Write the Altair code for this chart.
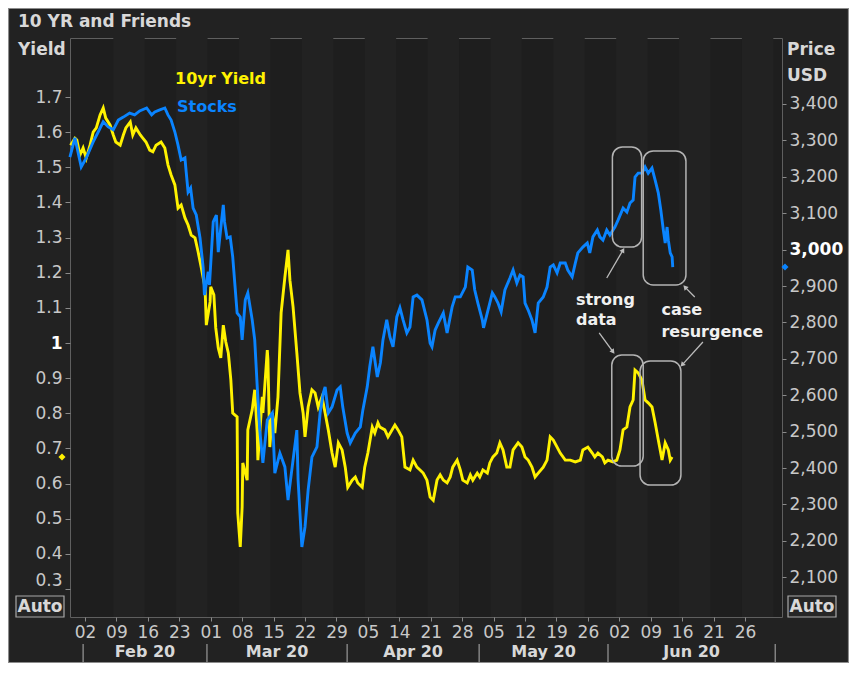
import altair as alt
import pandas as pd

# ---------------- data (x = trading-day index, 5 units per week, 0 = week of Feb 02 2020)
stock_t = [-2.4, -1.6, -0.6, 0.2, 1.3, 2.1, 2.9, 3.7, 4.5, 5.3, 6.1, 7.1, 7.9, 8.7, 9.8, 10.6, 11.1, 11.9,
           12.7, 13.2, 13.7, 14.3, 14.8, 15.3, 15.9, 16.1, 16.4, 16.8, 17.2, 17.7, 18.3, 18.8, 19.0, 19.6,
           19.8, 20.4, 20.9, 21.2, 21.6, 22.0, 22.2, 22.6, 23.1, 23.5, 24.2, 24.7, 25.0, 25.5, 25.9, 26.6,
           27.0, 27.4, 27.8, 28.3, 29.0, 29.8, 30.2, 31.0, 31.8, 32.3, 32.9, 33.7, 33.9, 34.5, 35.0, 35.5,
           36.1, 36.9, 37.4, 37.9, 38.2, 38.7, 39.3, 40.1, 40.6, 41.0, 41.7, 42.2, 43.0, 43.8, 44.2, 44.9,
           45.3, 45.8, 46.5, 47.0, 47.4, 48.0, 48.5, 49.0, 49.6, 50.1, 50.6, 51.2, 51.7, 52.2, 52.8, 53.6,
           54.4, 54.9, 55.2, 55.7, 56.2, 57.0, 57.6, 58.4, 58.9, 59.7, 60.5, 60.9, 61.6, 62.0, 62.5, 63.2,
           63.4, 64.0, 64.8, 65.2, 65.7, 66.2, 66.8, 67.6, 68.1, 68.7, 69.2, 69.7, 70.0, 70.5, 71.1, 71.6,
           72.1, 72.9, 73.5, 74.0, 74.5, 75.1, 75.6, 76.4, 76.8, 77.5, 78.0, 78.4, 79.2, 79.9, 80.3, 80.8,
           81.5, 81.9, 82.4, 83.0, 83.5, 84.3, 84.8, 85.6, 86.2, 86.7, 87.2, 87.5, 88.0, 88.6, 89.1, 89.6,
           90.2, 90.7, 91.2, 91.6, 92.0, 92.3, 92.6, 92.8, 93.1, 93.4, 93.5]
stock_px = [3254, 3307, 3227, 3252, 3296, 3323, 3351, 3337, 3329, 3356, 3364, 3375, 3370, 3381, 3389, 3370,
            3378, 3384, 3389, 3370, 3356, 3323, 3287, 3246, 3252, 3213, 3158, 3169, 3114, 3095, 3032, 2950,
            2875, 2939, 2903, 3076, 3095, 2993, 3059, 3123, 3076, 3032, 3035, 2980, 2826, 2815, 2752, 2862,
            2881, 2807, 2752, 2623, 2504, 2414, 2532, 2551, 2386, 2441, 2403, 2312, 2395, 2504, 2367, 2183,
            2238, 2340, 2430, 2458, 2551, 2606, 2623, 2551, 2568, 2614, 2623, 2568, 2496, 2469, 2496, 2513,
            2559, 2623, 2678, 2733, 2650, 2690, 2752, 2807, 2760, 2733, 2815, 2840, 2807, 2771, 2787, 2870,
            2875, 2862, 2807, 2743, 2733, 2779, 2798, 2826, 2771, 2842, 2870, 2870, 2897, 2952, 2944, 2889,
            2853, 2807, 2785, 2826, 2881, 2870, 2853, 2829, 2889, 2922, 2944, 2908, 2930, 2925, 2853, 2834,
            2807, 2771, 2853, 2870, 2897, 2952, 2958, 2936, 2963, 2963, 2944, 2925, 2963, 2991, 3007, 3018,
            2991, 3035, 3054, 3035, 3026, 3054, 3040, 3062, 3081, 3114, 3103, 3128, 3136, 3199, 3210, 3210,
            3227, 3210, 3224, 3191, 3156, 3109, 3054, 3018, 3062, 3026, 2991, 2980, 2952]

yield_t = [-2.3, -1.6, -1.3, -0.8, -0.3, 0.2, 0.8, 1.3, 1.8, 2.4, 2.9, 3.3, 4.0, 4.5, 4.9, 5.6, 6.1, 6.5,
           7.2, 7.6, 8.1, 8.8, 9.2, 9.7, 10.3, 10.8, 11.3, 12.1, 12.7, 13.2, 13.7, 14.3, 14.8, 15.3, 15.9,
           16.4, 16.9, 17.5, 18.0, 18.5, 19.1, 19.3, 19.9, 20.0, 20.5, 20.8, 21.2, 21.6, 22.0, 22.4, 22.8,
           23.2, 23.5, 24.2, 24.3, 24.7, 25.0, 25.1, 25.8, 25.9, 26.6, 27.0, 27.4, 27.5, 28.2, 28.3, 29.0,
           29.1, 29.4, 29.8, 30.2, 30.7, 31.2, 31.8, 32.3, 32.6, 33.1, 33.7, 34.2, 34.7, 35.0, 35.5, 36.1,
           36.6, 37.1, 37.7, 38.2, 38.7, 39.3, 39.8, 40.3, 40.9, 41.4, 41.8, 42.5, 43.0, 43.4, 44.1, 44.5,
           45.0, 45.7, 46.1, 46.6, 46.9, 47.7, 48.2, 49.3, 49.8, 50.4, 50.9, 51.7, 52.2, 52.8, 53.3, 53.8,
           54.4, 54.9, 55.4, 56.0, 56.5, 57.0, 57.6, 58.1, 58.5, 59.2, 59.7, 60.1, 60.8, 61.3, 61.7, 62.4,
           62.8, 63.3, 64.0, 64.4, 64.9, 65.5, 66.0, 66.5, 67.1, 67.6, 68.1, 68.9, 69.5, 70.0, 70.5, 71.1,
           71.6, 72.1, 72.9, 73.5, 74.0, 74.5, 75.1, 75.6, 76.4, 77.2, 78.0, 78.8, 79.2, 80.0, 80.7, 81.1,
           81.6, 82.3, 82.7, 83.2, 84.0, 84.6, 85.1, 85.6, 86.2, 86.7, 87.2, 87.5, 88.0, 88.6, 89.1, 89.6,
           90.2, 90.7, 91.2, 91.8, 92.3, 92.8, 93.1, 93.4]
yield_v = [1.563, 1.583, 1.578, 1.535, 1.555, 1.526, 1.563, 1.600, 1.612, 1.649, 1.669, 1.640, 1.620, 1.592,
           1.572, 1.563, 1.592, 1.612, 1.629, 1.592, 1.612, 1.592, 1.583, 1.572, 1.549, 1.544, 1.563, 1.572,
           1.555, 1.507, 1.478, 1.450, 1.384, 1.393, 1.356, 1.336, 1.307, 1.299, 1.259, 1.214, 1.157, 1.051,
           1.117, 1.160, 1.137, 1.043, 0.986, 0.958, 1.051, 1.003, 0.972, 0.895, 0.801, 0.790, 0.517, 0.420,
           0.534, 0.659, 0.610, 0.753, 0.810, 0.867, 0.744, 0.667, 0.847, 0.801, 0.980, 0.952, 0.704, 0.801,
           0.744, 0.847, 1.086, 1.188, 1.265, 1.179, 1.103, 0.972, 0.858, 0.801, 0.733, 0.818, 0.867, 0.858,
           0.818, 0.847, 0.801, 0.753, 0.687, 0.647, 0.716, 0.696, 0.647, 0.590, 0.610, 0.619, 0.602, 0.590,
           0.647, 0.687, 0.761, 0.744, 0.773, 0.761, 0.753, 0.733, 0.767, 0.753, 0.733, 0.647, 0.639, 0.667,
           0.647, 0.639, 0.630, 0.610, 0.562, 0.553, 0.610, 0.625, 0.610, 0.602, 0.619, 0.647, 0.667, 0.639,
           0.610, 0.602, 0.625, 0.610, 0.630, 0.619, 0.639, 0.630, 0.659, 0.676, 0.687, 0.716, 0.696, 0.647,
           0.647, 0.696, 0.716, 0.704, 0.676, 0.667, 0.647, 0.619, 0.630, 0.647, 0.667, 0.733, 0.724, 0.704,
           0.687, 0.667, 0.667, 0.662, 0.667, 0.696, 0.704, 0.687, 0.676, 0.687, 0.676, 0.659, 0.667, 0.662,
           0.667, 0.696, 0.753, 0.761, 0.818, 0.838, 0.923, 0.915, 0.895, 0.838, 0.830, 0.818, 0.773, 0.724,
           0.667, 0.716, 0.696, 0.667, 0.676]

x_ticks = [0, 5, 10, 15, 20, 25, 30, 35, 40, 45, 50, 55, 60, 65, 70, 75, 80, 85, 90, 95, 100, 105]
x_tick_labels = ["02", "09", "16", "23", "01", "08", "15", "22", "29", "05", "14", "21", "28",
                 "05", "12", "19", "26", "02", "09", "16", "21", "26"]
month_edges = [-0.3, 19.4, 41.7, 62.7, 83.2, 109.8]
month_names = ["Feb 20", "Mar 20", "Apr 20", "May 20", "Jun 20"]
yield_axis_vals = [0.3, 0.4, 0.5, 0.6, 0.7, 0.8, 0.9, 1.0, 1.1, 1.2, 1.3, 1.4, 1.5, 1.6, 1.7]
price_axis_vals = [2100, 2200, 2300, 2400, 2500, 2600, 2700, 2800, 2900, 3000, 3100, 3200, 3300, 3400]
band_starts = [4.5, 14.5, 24.5, 34.5, 44.5, 54.5, 64.5, 74.5, 84.5, 94.5, 104.5]

# annotation boxes / arrows / notes (data coordinates)
stock_boxes = {"t": [83.9, 88.8], "t2": [88.55, 95.6], "p": [3007, 2903], "p2": [3282, 3271]}
yield_boxes = {"t": [83.8, 88.3], "t2": [88.8, 94.8], "v": [0.650, 0.596], "v2": [0.966, 0.949]}
stock_arrows = {"t": [83.0, 97.0], "p": [2922, 2870], "t2": [85.6, 95.45], "p2": [2999, 2897], "ang": [30, 317]}
yield_arrows = {"t": [81.8, 98.3], "v": [1.029, 1.003], "t2": [84.0, 95.0], "v2": [0.975, 0.938], "ang": [143, 222]}
notes = {"t": [78.1, 78.1, 91.7, 91.7], "p": [2862, 2807, 2834, 2774],
         "txt": ["strong", "data", "case", "resurgence"]}

# ---------------- layout / style
W, H = 712, 579
PAD = {"left": 62, "top": 30, "right": 67, "bottom": 46}
X_DOM = [-2.386, 110.88]
Y_DOM = [0.2206, 1.8679]
P_DOM = [1990.7, 3581.3]
FONT = "DejaVu Sans"
YELLOW = "#fff200"
BLUE = "#0a84ff"
LABEL = "#c8c8c8"
TEXT = "#d8d8d8"
TICK = "#8a8a8a"

xs = alt.Scale(domain=X_DOM, nice=False, zero=False)
ys = alt.Scale(domain=Y_DOM, nice=False, zero=False)
ps = alt.Scale(domain=P_DOM, nice=False, zero=False)

label_expr = "[" + ",".join("'%s'" % s for s in x_tick_labels) + "][round(datum.value/5)]"
x_axis = alt.Axis(values=x_ticks, labelExpr=label_expr, domain=False, grid=False, title=None,
                  tickSize=4, tickColor=TICK, labelColor=LABEL, labelFont=FONT, labelFontSize=17,
                  labelPadding=3, labelOverlap=False, labelFlush=False)
y_axis = alt.Axis(values=yield_axis_vals, format=".1~f", orient="left", domain=False, grid=False,
                  title=None, tickSize=5, tickColor=TICK, labelFont=FONT, labelFontSize=17,
                  labelPadding=3, labelOverlap=False, labelFlush=False,
                  labelOffset={"condition": {"test": "datum.value < 0.35", "value": -9}, "value": 0},
                  labelColor={"condition": {"test": "datum.value == 1", "value": "#ffffff"}, "value": LABEL},
                  labelFontWeight={"condition": {"test": "datum.value == 1", "value": "bold"}, "value": "normal"})
p_axis = alt.Axis(values=price_axis_vals, format=",d", orient="right", domain=False, grid=False,
                  title=None, tickSize=4, tickColor=TICK, labelFont=FONT, labelFontSize=17,
                  labelPadding=3, labelOverlap=False, labelFlush=False,
                  labelColor={"condition": {"test": "datum.value == 3000", "value": "#ffffff"}, "value": LABEL},
                  labelFontWeight={"condition": {"test": "datum.value == 3000", "value": "bold"}, "value": "normal"})


def X(field):
    return alt.X(field, scale=xs, axis=x_axis)


def Y(field):
    return alt.Y(field, scale=ys, axis=y_axis)


def P(field):
    return alt.Y(field, scale=ps, axis=p_axis)


one = pd.DataFrame({"k": [0]})

# background week bands
bands_df = pd.DataFrame({"t": band_starts, "t2": [b + 5 for b in band_starts]})
bands = alt.Chart(bands_df).mark_rect(color="#222222").encode(
    x=X("t:Q"), x2="t2:Q", y=alt.value(0), y2=alt.value(H))

# month separators and labels
mrule = alt.Chart(pd.DataFrame({"t": month_edges})).mark_rule(color="#9a9a9a", strokeWidth=1.2).encode(
    x=X("t:Q"), y=alt.value(606), y2=alt.value(625))
mid = [(month_edges[i] + month_edges[i + 1]) / 2 for i in range(len(month_names))]
mtext = alt.Chart(pd.DataFrame({"t": mid, "name": month_names})).mark_text(
    font=FONT, fontSize=16, fontWeight="bold", color=TEXT, baseline="middle").encode(
    x=X("t:Q"), y=alt.value(614), text="name:N")

# yield group
ydf = pd.DataFrame({"t": yield_t, "v": yield_v})
yline = alt.Chart(ydf).mark_line(color=YELLOW, strokeWidth=2.9).encode(x=X("t:Q"), y=Y("v:Q"))
ybox = alt.Chart(pd.DataFrame(yield_boxes)).mark_rect(
    cornerRadius=10, fillOpacity=0, stroke="#b4b4b4", strokeWidth=1.5).encode(
    x=X("t:Q"), x2="t2:Q", y=Y("v:Q"), y2="v2:Q")
yarr = alt.Chart(pd.DataFrame(yield_arrows)).mark_rule(color="#bdbdbd", strokeWidth=1.3).encode(
    x=X("t:Q"), x2="t2:Q", y=Y("v:Q"), y2="v2:Q")
yhead = alt.Chart(pd.DataFrame(yield_arrows)).mark_point(
    shape="triangle-up", filled=True, size=30, color="#bdbdbd", opacity=1).encode(
    x=X("t2:Q"), y=Y("v2:Q"), angle=alt.Angle("ang:Q", scale=None))
ydia = alt.Chart(ydf.tail(1)).mark_point(shape="diamond", filled=True, size=50, color=YELLOW, opacity=1).encode(
    x=alt.value(-8), y=Y("v:Q"))
ygroup = alt.layer(yline, ybox, yarr, yhead, ydia)

# stock group
sdf = pd.DataFrame({"t": stock_t, "p": stock_px})
sline = alt.Chart(sdf).mark_line(color=BLUE, strokeWidth=2.9).encode(x=X("t:Q"), y=P("p:Q"))
sbox = alt.Chart(pd.DataFrame(stock_boxes)).mark_rect(
    cornerRadius=10, fillOpacity=0, stroke="#b4b4b4", strokeWidth=1.5).encode(
    x=X("t:Q"), x2="t2:Q", y=P("p:Q"), y2="p2:Q")
sarr = alt.Chart(pd.DataFrame(stock_arrows)).mark_rule(color="#bdbdbd", strokeWidth=1.3).encode(
    x=X("t:Q"), x2="t2:Q", y=P("p:Q"), y2="p2:Q")
shead = alt.Chart(pd.DataFrame(stock_arrows)).mark_point(
    shape="triangle-up", filled=True, size=30, color="#bdbdbd", opacity=1).encode(
    x=X("t2:Q"), y=P("p2:Q"), angle=alt.Angle("ang:Q", scale=None))
snote = alt.Chart(pd.DataFrame(notes)).mark_text(
    font=FONT, fontSize=16, fontWeight="bold", color="#f0f0f0", align="left", baseline="middle").encode(
    x=X("t:Q"), y=P("p:Q"), text="txt:N")
sdia = alt.Chart(sdf.tail(1)).mark_point(shape="diamond", filled=True, size=50, color=BLUE, opacity=1).encode(
    x=alt.value(715), y=P("p:Q"))
sgroup = alt.layer(sline, sbox, sarr, shead, snote, sdia)


def label(txt, x, y, size=17, color=TEXT, weight="bold", align="left"):
    return alt.Chart(one).mark_text(text=txt, font=FONT, fontSize=size, fontWeight=weight, color=color,
                                    align=align, baseline="middle").encode(x=alt.value(x), y=alt.value(y))


def box(x1, x2, y1, y2, fill, stroke, opacity=1):
    return alt.Chart(one).mark_rect(fill=fill, fillOpacity=opacity, stroke=stroke, strokeWidth=1.2).encode(
        x=alt.value(x1), x2=alt.value(x2), y=alt.value(y1), y2=alt.value(y2))


frame = box(-61.5, W + PAD["right"] - 0.5, -PAD["top"] + 0.5, H + PAD["bottom"] - 0.5, "#222222", "#8c8c8c", 0)

chart = alt.layer(
    bands, mrule, mtext, ygroup, sgroup, frame,
    box(-54, -6, 558, 579, "#262626", "#a8a8a8"),
    box(718, 766, 558, 579, "#262626", "#a8a8a8"),
    label("10 YR and Friends", -52, -16),
    label("Yield", -52, 12),
    label("Price", 717, 12),
    label("USD", 717, 38),
    label("Auto", -30, 569, align="center"),
    label("Auto", 742, 569, align="center"),
    label("10yr Yield", 105, 41, size=16, color=YELLOW),
    label("Stocks", 107, 69, size=16, color=BLUE),
).resolve_scale(y="independent").properties(
    width=W, height=H,
    padding=PAD,
    autosize=alt.AutoSizeParams(type="none"),
    background="#222222",
).configure_view(stroke="#5f5f5f", strokeWidth=1, fill="#1e1e1e")

chart.save("out.html", embed_options={"renderer": "svg", "actions": False})
